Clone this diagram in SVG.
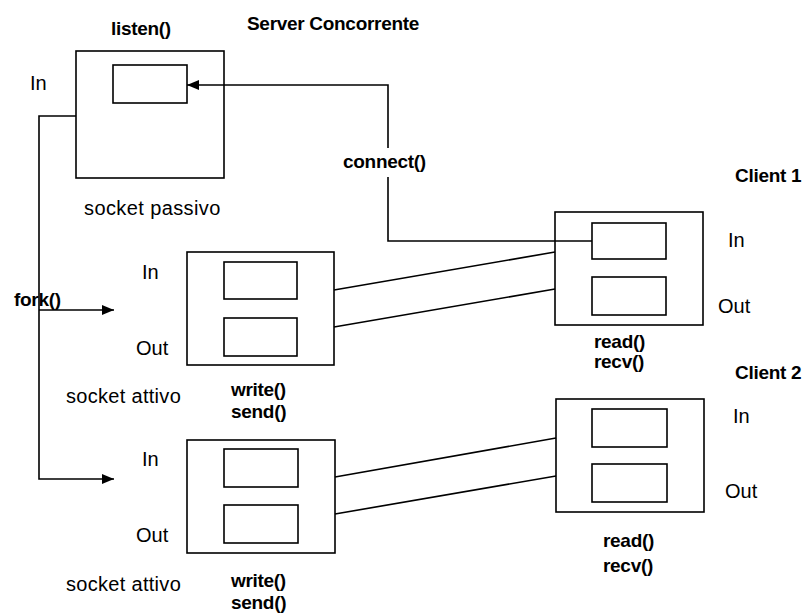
<svg xmlns="http://www.w3.org/2000/svg" width="809" height="613" viewBox="0 0 809 613">
<style>
.box{fill:none;stroke:#000;stroke-width:1.6}
.ln{fill:none;stroke:#000;stroke-width:1.6}
.r{font-family:"Liberation Sans",Arial,sans-serif;font-size:20px;fill:#000}
.b{font-family:"Liberation Sans",Arial,sans-serif;font-size:19px;font-weight:bold;fill:#000;letter-spacing:-0.3px}
</style>
<defs>
<marker id="ah" viewBox="0 0 12 10" refX="12" refY="5" markerWidth="12" markerHeight="10" markerUnits="userSpaceOnUse" orient="auto">
<path d="M0,0 L12,5 L0,10 z" fill="#000"/>
</marker>
</defs>
<rect width="809" height="613" fill="#fff"/>
<text class="b" x="247" y="30">Server Concorrente</text>
<g id="passive">
<text class="b" x="111" y="35">listen()</text>
<text class="r" x="30" y="90">In</text>
<rect class="box" x="76" y="51" width="148" height="127"/>
<rect class="box" x="113" y="65" width="74" height="38"/>
<text class="r" x="84" y="215" letter-spacing="0.4">socket passivo</text>
</g>
<g id="active1">
<text class="r" x="142" y="279">In</text>
<text class="r" x="136" y="355">Out</text>
<rect class="box" x="187" y="252" width="147" height="113"/>
<rect class="box" x="224" y="262" width="73" height="37"/>
<rect class="box" x="224" y="318" width="73" height="38"/>
<text class="r" x="66" y="403" letter-spacing="0.3">socket attivo</text>
<text class="b" x="231" y="396">write()</text>
<text class="b" x="231" y="418">send()</text>
</g>
<g id="active2">
<text class="r" x="142" y="466">In</text>
<text class="r" x="136" y="542">Out</text>
<rect class="box" x="187" y="440" width="148" height="113"/>
<rect class="box" x="224" y="449" width="74" height="38"/>
<rect class="box" x="224" y="505" width="74" height="38"/>
<text class="r" x="66" y="591" letter-spacing="0.3">socket attivo</text>
<text class="b" x="231" y="587">write()</text>
<text class="b" x="231" y="609">send()</text>
</g>
<g id="client1">
<text class="b" x="735" y="182">Client 1</text>
<rect class="box" x="555" y="212" width="148" height="113"/>
<rect class="box" x="592" y="223" width="74" height="36"/>
<rect class="box" x="592" y="277" width="74" height="38"/>
<text class="r" x="728" y="247">In</text>
<text class="r" x="718" y="313">Out</text>
<text class="b" x="594" y="348">read()</text>
<text class="b" x="594" y="368">recv()</text>
</g>
<g id="client2">
<text class="b" x="735" y="379">Client 2</text>
<rect class="box" x="556" y="399" width="148" height="113"/>
<rect class="box" x="592" y="409" width="75" height="38"/>
<rect class="box" x="592" y="464" width="75" height="38"/>
<text class="r" x="733" y="423">In</text>
<text class="r" x="725" y="498">Out</text>
<text class="b" x="603" y="547">read()</text>
<text class="b" x="603" y="572">recv()</text>
</g>
<g id="connectors">
<path class="ln" d="M388,148 L388,85 L187,85" marker-end="url(#ah)"/>
<text class="b" x="343" y="168">connect()</text>
<path class="ln" d="M388,177 L388,241 L592,241"/>
<path class="ln" d="M76,116 L39,116 L39,479 L114,479" marker-end="url(#ah)"/>
<path class="ln" d="M39,310 L114,310" marker-end="url(#ah)"/>
<text class="b" x="14" y="306">fork()</text>
<path class="ln" d="M334,290 L555,252"/>
<path class="ln" d="M334,327 L555,289"/>
<path class="ln" d="M335,477 L556,438"/>
<path class="ln" d="M335,514 L556,476"/>
</g>
</svg>
